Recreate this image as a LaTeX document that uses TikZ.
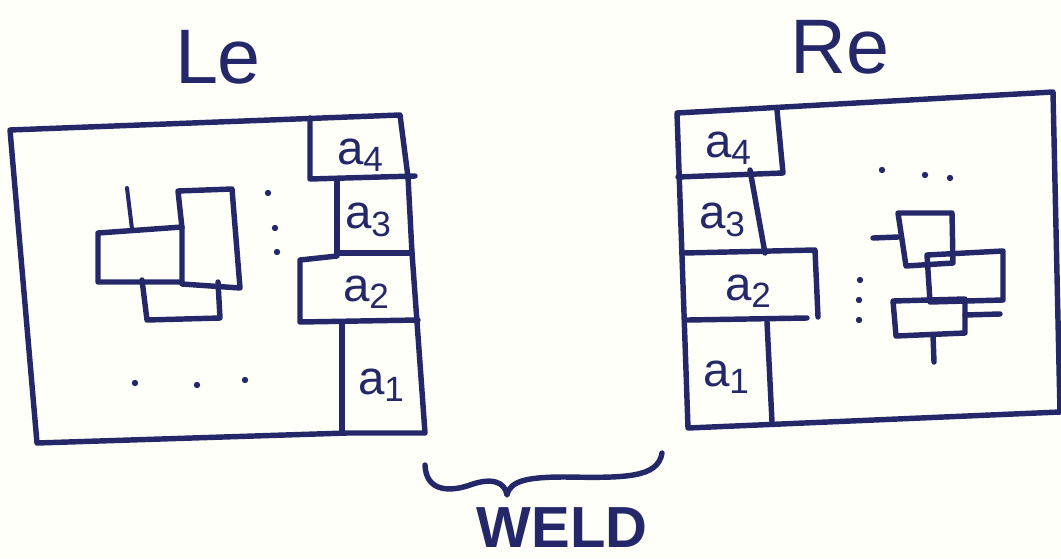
\documentclass[tikz,border=0pt]{standalone}
\usepackage{fontspec}
\setmainfont{Liberation Sans}
\definecolor{ink}{RGB}{36,40,104}
\begin{document}
\begin{tikzpicture}[x=0.02cm,y=-0.02cm,
  pen/.style={draw=ink,line width=3.1pt,line cap=round,line join=round},
  thin pen/.style={draw=ink,line width=2.3pt,line cap=round},
  dotmark/.style={fill=ink,draw=none},
  lbl/.style={text=ink,font=\fontsize{27}{27}\selectfont,inner sep=0pt},
  title/.style={text=ink,font=\fontsize{44}{44}\selectfont,inner sep=0pt},
  weld/.style={text=ink,font=\bfseries\fontsize{33}{33}\selectfont,inner sep=0pt}]
\useasboundingbox (0,0) rectangle (1061,558);
\fill[white!98!yellow] (0,0) rectangle (1061,558);
\newcommand{\lab}[1]{a\raisebox{-0.3ex}{\fontsize{20}{20}\selectfont #1}}

% titles
\node[title] (Le) at (218,57) {Le};
\node[title] (Re) at (840,47) {Re};

% ---------- left box ----------
\draw[pen] (10,130) -- (400,115) -- (408,177) -- (412,253) -- (417,322) -- (425,433) -- (347,433) -- (37,443) -- cycle;
% strips
\draw[pen] (310,118) -- (310,179) -- (415,176);
\draw[pen] (337,180) -- (337,253) -- (412,253);
\draw[pen] (337,256) -- (300,260) -- (300,322) -- (418,320);
\draw[pen] (342,323) -- (342,433);
\node[lbl] (la4) at (360,155) {\lab{4}};
\node[lbl] (la3) at (368,220) {\lab{3}};
\node[lbl] (la2) at (366,292) {\lab{2}};
\node[lbl] (la1) at (381,385) {\lab{1}};
% inner blocks
\draw[pen] (98,233) -- (182,227) -- (182,282) -- (98,282) -- cycle;
\draw[pen] (182,228) -- (178,191) -- (232,189) -- (240,288) -- (182,284);
\draw[pen] (142,280) -- (147,320) -- (220,318) -- (218,282);
\draw[thin pen] (127,188) -- (132,229);
% dots
\foreach \p in {(268,193),(275,228),(277,252),(135,383),(197,385),(245,380)}
  \fill[dotmark] \p circle (3.2);

% ---------- right box ----------
\draw[pen] (677,113) -- (1053,92) -- (1060,412) -- (688,428) -- cycle;
\draw[pen] (777,110) -- (783,173) -- (678,177);
\draw[pen] (750,170) -- (765,253);
\draw[pen] (684,253) -- (815,250) -- (818,317);
\draw[pen] (688,320) -- (807,318);
\draw[pen] (767,322) -- (772,422);
\node[lbl] (ra4) at (728,148) {\lab{4}};
\node[lbl] (ra3) at (722,220) {\lab{3}};
\node[lbl] (ra2) at (748,291) {\lab{2}};
\node[lbl] (ra1) at (726,377) {\lab{1}};
% inner blocks
\draw[pen] (898,213) -- (952,213) -- (953,263) -- (906,266) -- cycle;
\draw[pen] (927,255) -- (1003,251) -- (1003,300) -- (930,302) -- cycle;
\draw[pen] (893,301) -- (965,299) -- (965,333) -- (896,336) -- cycle;
\draw[pen] (873,238) -- (898,237);
\draw[pen] (965,315) -- (1000,314);
\draw[pen] (933,335) -- (934,362);
% dots
\foreach \p in {(882,170),(925,175),(950,178),(860,280),(859,300),(859,320)}
  \fill[dotmark] \p circle (3.2);

% ---------- brace and WELD ----------
\draw[pen] (425,465) .. controls (426,492) and (450,492) .. (470,485)
  .. controls (492,477) and (505,482) .. (507,495)
  .. controls (510,480) and (530,477) .. (565,477)
  .. controls (625,478) and (658,478) .. (662,453);
\node[weld] (weld) at (562,528) {WELD};
\end{tikzpicture}
\end{document}
